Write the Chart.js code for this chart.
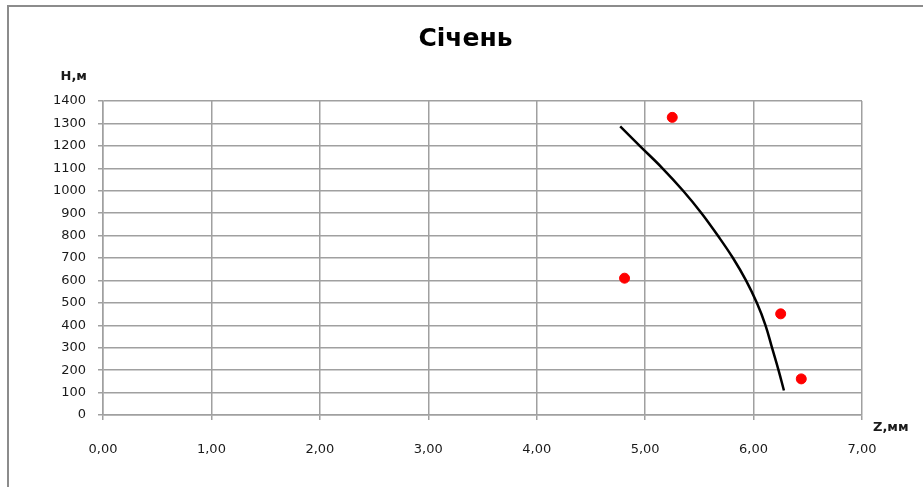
<!DOCTYPE html>
<html>
<head>
<meta charset="utf-8">
<title>Січень</title>
<script src="https://cdn.jsdelivr.net/npm/chart.js@4/dist/chart.umd.min.js"></script>
<style>
    html, body { margin: 0; padding: 0; background: #fff; overflow: hidden; }
    canvas { display: block; }
</style>
</head>
<body>
<canvas id="chart" width="923" height="487"></canvas>
<script>
// Виміряні точки (Z, мм; H, м)
const measZ = [5.25, 4.81, 6.25, 6.44];
const measH = [1327, 610, 451, 161];

// Лінія тренду
const trendZ = [4.77, 4.95, 5.16, 5.35, 5.52, 5.67, 5.81, 5.93, 6.03, 6.11, 6.17, 6.23, 6.28];
const trendH = [1287, 1200, 1100, 1000, 900, 800, 700, 600, 500, 400, 300, 200, 109];

// Підписи
const chartTitle = "Січень";
const axisX = { min: 0, max: 7, step: 1, title: "Z,мм" };
const axisY = { min: 0, max: 1400, step: 100, title: "H,м" };

const gridColor = "#a0a0a0";
const textColor = "#1a1a1a";

Chart.defaults.font.family = "'DejaVu Sans', sans-serif";
Chart.defaults.font.size = 13;
Chart.defaults.color = textColor;

// Рамка навколо всієї діаграми
const framePlugin = {
    id: "frame",
    beforeDraw(chart) {
        const ctx = chart.ctx;
        ctx.save();
        ctx.strokeStyle = "#8c8c8c";
        ctx.lineWidth = 2;
        ctx.strokeRect(8, 6, chart.width + 20, chart.height + 20);
        ctx.restore();
    },
};

// Заголовок по центру рамки та назви осей біля кінців шкал
const labelsPlugin = {
    id: "labels",
    afterDraw(chart) {
        const { ctx, chartArea } = chart;
        ctx.save();
        ctx.fillStyle = "#000";
        ctx.textBaseline = "middle";
        ctx.textAlign = "center";
        ctx.font = "bold 25px 'DejaVu Sans', sans-serif";
        ctx.fillText(chartTitle, (8 + chart.width) / 2, 39);

        ctx.font = "bold 13px 'DejaVu Sans', sans-serif";
        ctx.fillStyle = textColor;
        ctx.textAlign = "right";
        ctx.fillText(axisY.title, chartArea.left - 16, chartArea.top - 24);
        ctx.textAlign = "left";
        ctx.fillText(axisX.title, chartArea.right + 11, chartArea.bottom + 13);
        ctx.restore();
    },
};

const toPoints = (xs, ys) => xs.map((x, i) => ({ x, y: ys[i] }));

new Chart(document.getElementById("chart"), {
    type: "scatter",
    data: {
        datasets: [
            {
                label: "Виміри",
                data: toPoints(measZ, measH),
                backgroundColor: "#ff0000",
                borderColor: "#ff0000",
                pointRadius: 5,
                pointHoverRadius: 5,
                order: 1,
            },
            {
                label: "Тренд",
                data: toPoints(trendZ, trendH),
                showLine: true,
                borderColor: "#000000",
                borderWidth: 2.5,
                pointRadius: 0,
                tension: 0.4,
                fill: false,
                order: 2,
            },
        ],
    },
    options: {
        responsive: false,
        animation: false,
        layout: { padding: { left: 0, right: 61, top: 101, bottom: 0 } },
        plugins: {
            legend: { display: false },
            tooltip: { enabled: false },
            title: { display: false },
        },
        scales: {
            x: {
                type: "linear",
                min: axisX.min,
                max: axisX.max,
                afterFit: (scale) => { scale.height = 72; },
                ticks: {
                    stepSize: axisX.step,
                    padding: 22,
                    callback: (v) => v.toFixed(2).replace(".", ","),
                },
                grid: { color: gridColor, lineWidth: 1.5, tickLength: 5 },
                border: { color: gridColor, width: 1.5 },
            },
            y: {
                type: "linear",
                min: axisY.min,
                max: axisY.max,
                afterFit: (scale) => { scale.width = 103; },
                ticks: {
                    stepSize: axisY.step,
                    padding: 12,
                    callback: (v) => String(v),
                },
                grid: { color: gridColor, lineWidth: 1.5, tickLength: 5 },
                border: { color: gridColor, width: 1.5 },
            },
        },
    },
    plugins: [framePlugin, labelsPlugin],
});
</script>
</body>
</html>
